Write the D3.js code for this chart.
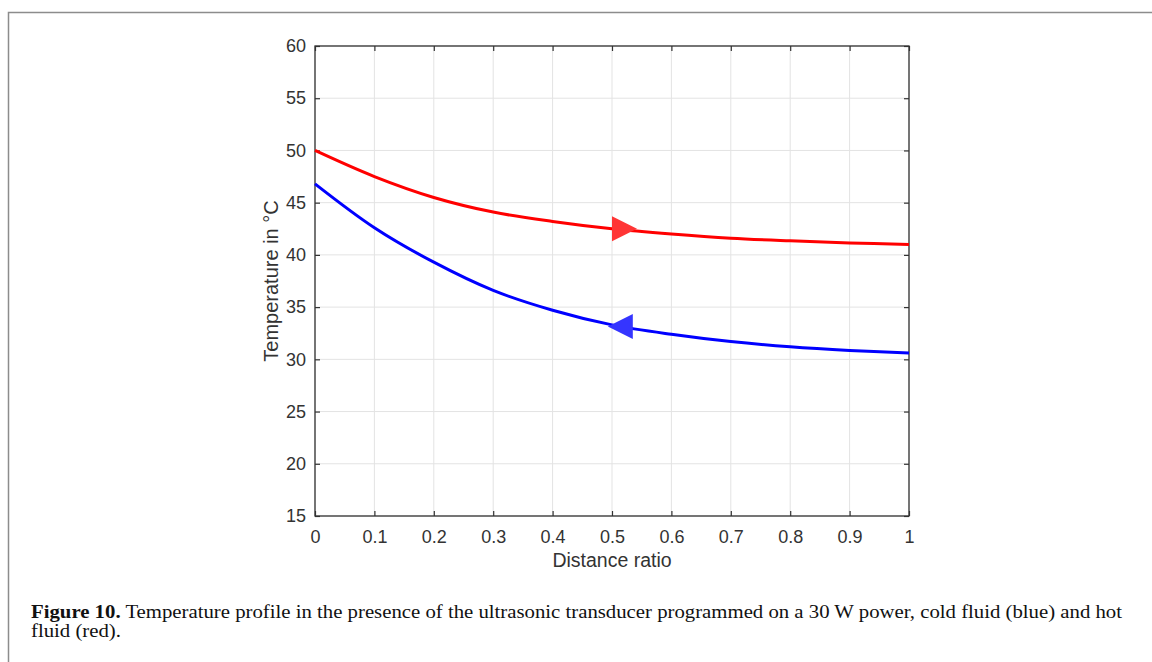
<!DOCTYPE html>
<html>
<head>
<meta charset="utf-8">
<script src="https://cdn.jsdelivr.net/npm/d3@7"></script>
<style>
  body { margin: 0; background: #fff; }
  .plot text { font-family: "Liberation Sans", Arial, sans-serif; }
  .caption text { font-family: "Liberation Serif", "DejaVu Serif", serif; }
</style>
</head>
<body>
<svg width="1152" height="662"></svg>
<script>
// data
var xRatio = [0, 0.1, 0.2, 0.3, 0.4, 0.5, 0.6, 0.7, 0.8, 0.9, 1];
var hotFluid = [50, 47.5, 45.5, 44.1, 43.2, 42.5, 42.0, 41.6, 41.35, 41.15, 41.0];
var coldFluid = [46.8, 42.6, 39.3, 36.6, 34.7, 33.3, 32.4, 31.7, 31.2, 30.85, 30.6];
var xTicks = [0, 0.1, 0.2, 0.3, 0.4, 0.5, 0.6, 0.7, 0.8, 0.9, 1];
var yTicks = [15, 20, 25, 30, 35, 40, 45, 50, 55, 60];
// flow direction markers: position on the curve and direction
var arrows = [
  {x: 0.5, y: 42.5, dir: 1, color: '#ff3535'},
  {x: 0.535, y: 33.15, dir: -1, color: '#3535ff'}
];

var svg = d3.select('svg');

// page frame
svg.append('path')
  .attr('d', 'M8.5,662 L8.5,12.5 L1152,12.5')
  .attr('fill', 'none')
  .attr('stroke', '#8c8c8c')
  .attr('stroke-width', 1.5);

var mLeft = 315, mRight = 909, mTop = 46, mBottom = 516;

var x = d3.scaleLinear().domain([0, 1]).range([mLeft, mRight]);
var y = d3.scaleLinear().domain([15, 60]).range([mBottom, mTop]);

var g = svg.append('g').attr('class', 'plot');

// grid
g.selectAll('line.vgrid')
  .data(xTicks).enter().append('line')
  .attr('x1', function(d) { return x(d); })
  .attr('x2', function(d) { return x(d); })
  .attr('y1', mTop).attr('y2', mBottom)
  .attr('stroke', '#e3e3e3').attr('stroke-width', 1);

g.selectAll('line.hgrid')
  .data(yTicks).enter().append('line')
  .attr('y1', function(d) { return y(d); })
  .attr('y2', function(d) { return y(d); })
  .attr('x1', mLeft).attr('x2', mRight)
  .attr('stroke', '#e3e3e3').attr('stroke-width', 1);

// axes (ticks point inward, on all four sides)
function styleAxis(sel) {
  sel.select('.domain').remove();
  sel.selectAll('.tick line').attr('stroke', '#333').attr('stroke-width', 1.2);
  sel.selectAll('.tick text')
    .attr('fill', '#333')
    .style('font-size', '18px');
}

var xAxis = g.append('g')
  .attr('transform', 'translate(0,' + mBottom + ')')
  .call(d3.axisBottom(x).tickValues(xTicks).tickSizeInner(-5).tickPadding(14)
    .tickFormat(function(d) { return d === 0 || d === 1 ? d3.format('d')(d) : d3.format('.1f')(d); }));
styleAxis(xAxis);

var xAxisTop = g.append('g')
  .attr('transform', 'translate(0,' + mTop + ')')
  .call(d3.axisTop(x).tickValues(xTicks).tickSizeInner(-5).tickFormat(''));
styleAxis(xAxisTop);

var yAxis = g.append('g')
  .attr('transform', 'translate(' + mLeft + ',0)')
  .call(d3.axisLeft(y).tickValues(yTicks).tickSizeInner(-5).tickPadding(9));
styleAxis(yAxis);

var yAxisRight = g.append('g')
  .attr('transform', 'translate(' + mRight + ',0)')
  .call(d3.axisRight(y).tickValues(yTicks).tickSizeInner(-5).tickFormat(''));
styleAxis(yAxisRight);

// box
g.append('rect')
  .attr('x', mLeft).attr('y', mTop)
  .attr('width', mRight - mLeft).attr('height', mBottom - mTop)
  .attr('fill', 'none')
  .attr('stroke', '#333')
  .attr('stroke-width', 1.3);

// curves
var line = d3.line()
  .x(function(d) { return x(d[0]); })
  .y(function(d) { return y(d[1]); })
  .curve(d3.curveCatmullRom.alpha(0.5));

g.append('path')
  .datum(d3.zip(xRatio, hotFluid))
  .attr('d', line)
  .attr('fill', 'none')
  .attr('stroke', '#ff0000')
  .attr('stroke-width', 3);

g.append('path')
  .datum(d3.zip(xRatio, coldFluid))
  .attr('d', line)
  .attr('fill', 'none')
  .attr('stroke', '#0000ff')
  .attr('stroke-width', 3);

// arrow heads
g.selectAll('path.arrow')
  .data(arrows).enter().append('path')
  .attr('d', 'M0,-12.5 L25,0 L0,12.5 Z')
  .attr('fill', function(d) { return d.color; })
  .attr('transform', function(d) {
    return 'translate(' + [x(d.x), y(d.y)] + ')scale(' + d.dir + ',1)';
  });

// axis labels
g.append('text')
  .attr('x', (mLeft + mRight) / 2)
  .attr('y', 567)
  .attr('text-anchor', 'middle')
  .attr('fill', '#333')
  .style('font-size', '19.5px')
  .text('Distance ratio');

g.append('text')
  .attr('transform', 'translate(278,' + (mTop + mBottom) / 2 + ')rotate(-90)')
  .attr('text-anchor', 'middle')
  .attr('fill', '#333')
  .style('font-size', '20px')
  .text('Temperature in °C');

// caption
var cap = svg.append('g')
  .attr('class', 'caption')
  .style('font-size', '19px')
  .attr('fill', '#111');

var line1 = cap.append('text')
  .attr('x', 31).attr('y', 618);
line1.append('tspan').style('font-weight', 'bold').text('Figure 10.');
line1.append('tspan').text(' Temperature profile in the presence of the ultrasonic transducer programmed on a 30 W power, cold fluid (blue) and hot');

var line2 = cap.append('text')
  .attr('x', 31).attr('y', 637)
  .text('fluid (red).');

// the caption face is condensed: squeeze both lines by the same ratio
var squeeze = 1091 / line1.node().getComputedTextLength();
line1.attr('textLength', 1091).attr('lengthAdjust', 'spacingAndGlyphs');
line2.attr('textLength', line2.node().getComputedTextLength() * squeeze)
  .attr('lengthAdjust', 'spacingAndGlyphs');
</script>
</body>
</html>
